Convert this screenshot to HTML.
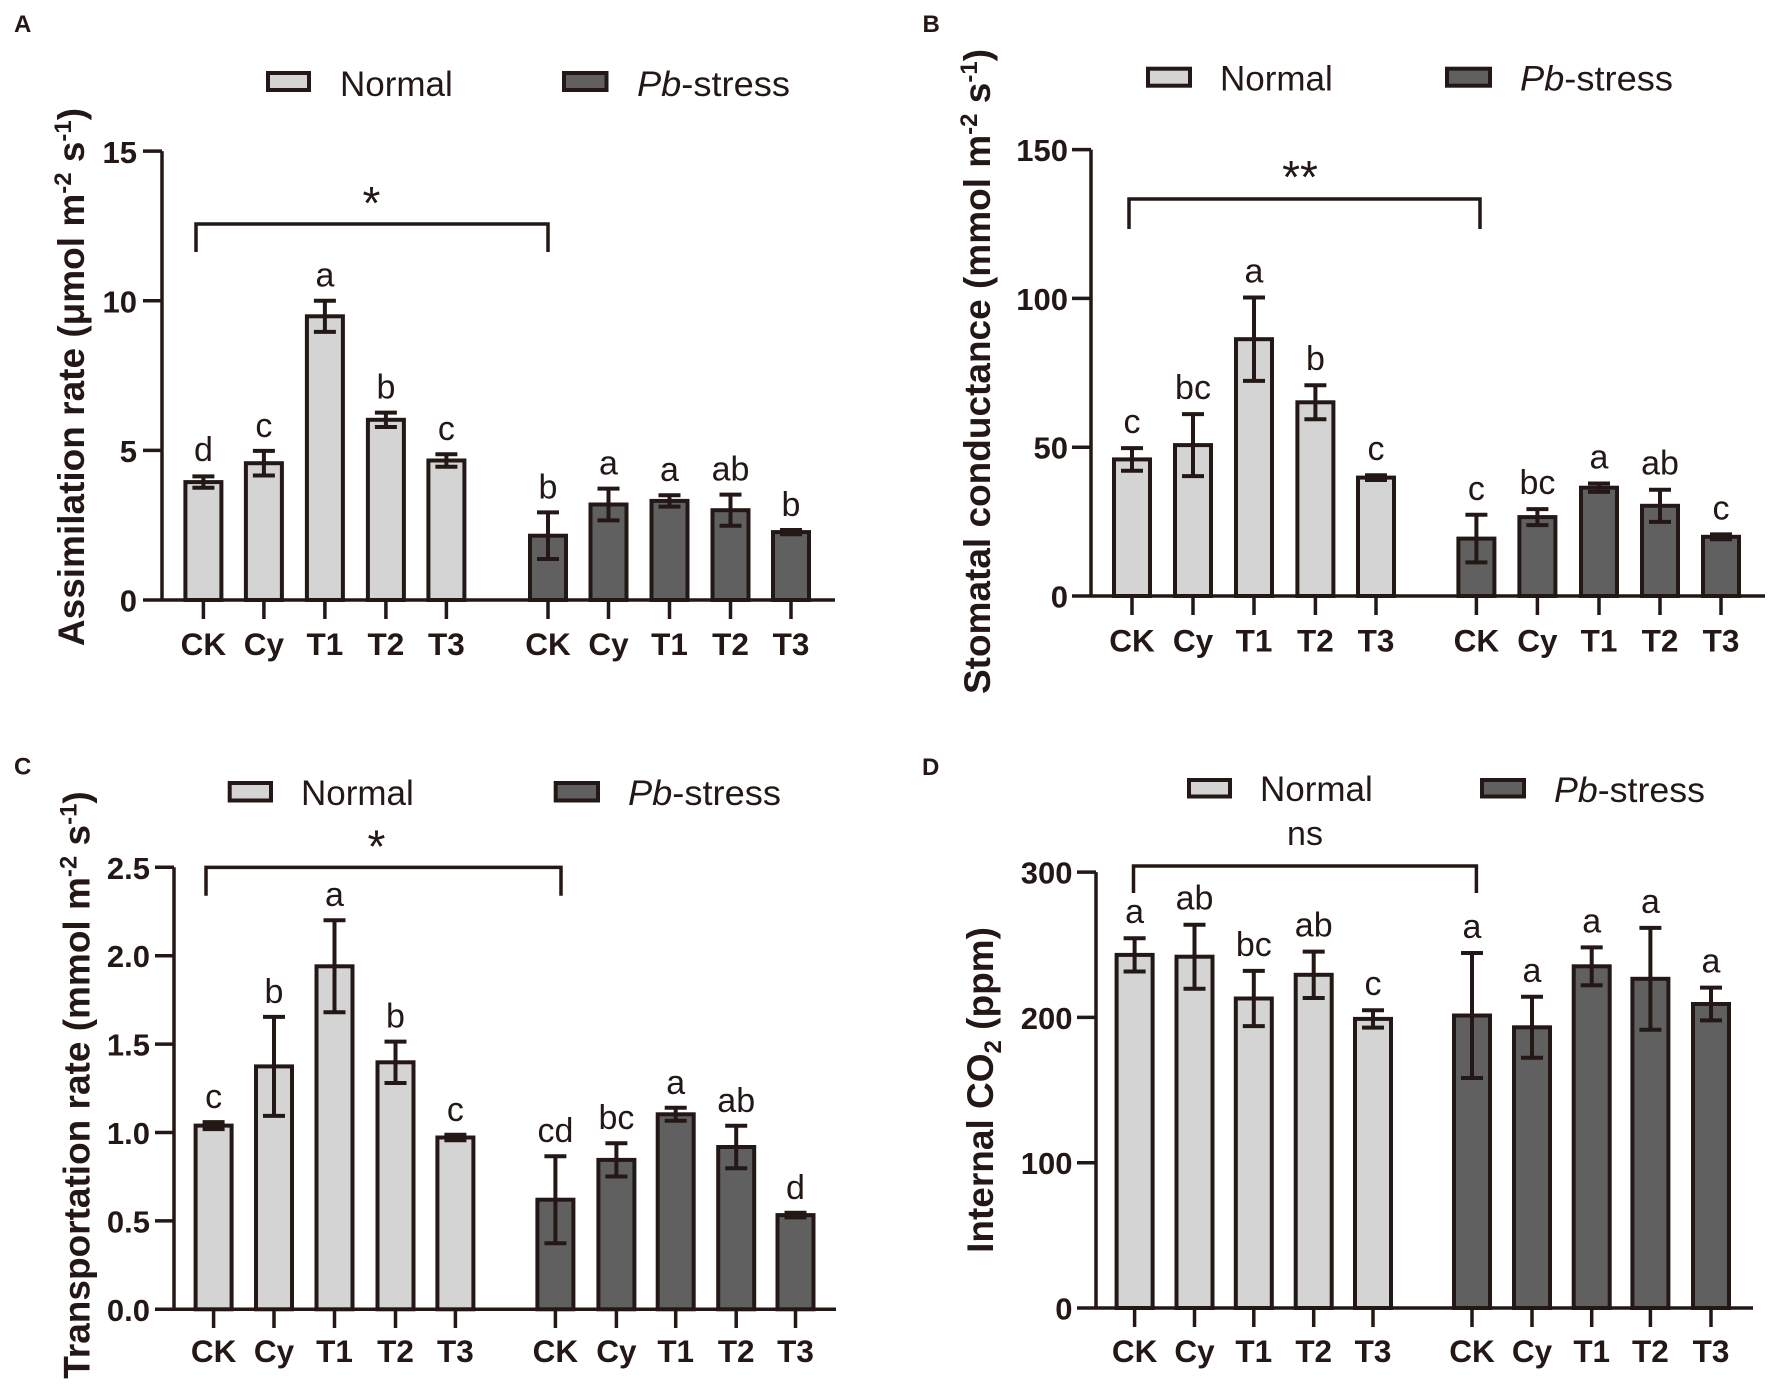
<!DOCTYPE html>
<html><head><meta charset="utf-8"><style>
html,body{margin:0;padding:0;background:#fff;}
svg{display:block;}
text{font-family:"Liberation Sans",Arial,sans-serif;fill:#231815;}
.t{font-size:31.5px;font-weight:bold;}
.yt{font-size:31px;font-weight:bold;text-anchor:end;}
.lt{font-size:34px;text-anchor:middle;}
.lg{font-size:35px;}
.ti{font-size:37px;font-weight:bold;text-anchor:middle;}
.pl{font-size:24px;font-weight:bold;}
.st{font-size:46px;text-anchor:middle;}
.n rect{fill:#d4d4d4;stroke:#231815;stroke-width:4;}
.p rect{fill:#606060;stroke:#231815;stroke-width:4;}
.ln{fill:none;stroke:#231815;stroke-width:3.5;}
.er{fill:none;stroke:#231815;stroke-width:4;}
.lb rect{stroke:#231815;stroke-width:4;}
</style></head><body>
<svg width="1772" height="1389" viewBox="0 0 1772 1389" xmlns="http://www.w3.org/2000/svg">
<rect width="1772" height="1389" fill="#fff"/>

<!-- ================= PANEL A ================= -->
<text class="pl" x="14" y="32">A</text>
<g class="lb"><rect x="268" y="73" width="41" height="17" fill="#d4d4d4"/><rect x="564" y="73" width="42.5" height="17" fill="#606060"/></g>
<text class="lg" x="340" y="96">Normal</text>
<text class="lg" x="637" y="96" textLength="153" lengthAdjust="spacingAndGlyphs"><tspan font-style="italic">Pb</tspan>-stress</text>
<text class="ti" transform="translate(84,377) rotate(-90)">Assimilation rate (μmol m<tspan font-size="24" dy="-13">-2</tspan><tspan dy="13"> s</tspan><tspan font-size="24" dy="-13">-1</tspan><tspan dy="13">)</tspan></text>
<g class="n">
<rect x="185.4" y="482.1" width="36" height="117.9"/>
<rect x="245.9" y="463.2" width="36" height="136.8"/>
<rect x="306.9" y="316.3" width="36" height="283.7"/>
<rect x="367.9" y="419.8" width="36" height="180.2"/>
<rect x="428.4" y="460.5" width="36" height="139.5"/>
</g>
<g class="p">
<rect x="530" y="535.7" width="36" height="64.3"/>
<rect x="590.5" y="504.5" width="36" height="95.5"/>
<rect x="651.5" y="500.9" width="36" height="99.1"/>
<rect x="712.5" y="510.2" width="36" height="89.8"/>
<rect x="773" y="532.1" width="36" height="67.9"/>
</g>
<path class="er" d="M203.4 476.4V487.8M192.4 476.4H214.4M192.4 487.8H214.4
M263.9 450.9V475.5M252.9 450.9H274.9M252.9 475.5H274.9
M324.9 300.7V331.9M313.9 300.7H335.9M313.9 331.9H335.9
M385.9 412.6V427M374.9 412.6H396.9M374.9 427H396.9
M446.4 454.2V466.8M435.4 454.2H457.4M435.4 466.8H457.4
M548 512.4V559M537 512.4H559M537 559H559
M608.5 488.6V520.4M597.5 488.6H619.5M597.5 520.4H619.5
M669.5 495.2V506.6M658.5 495.2H680.5M658.5 506.6H680.5
M730.5 494.6V525.8M719.5 494.6H741.5M719.5 525.8H741.5
M791 530V534.2M780 530H802M780 534.2H802"/>
<path class="ln" d="M162 151.1V600M143 600H835M143 151.1H162M143 300.7H162M143 450.4H162
M203.4 600V619M263.9 600V619M324.9 600V619M385.9 600V619M446.4 600V619M548 600V619M608.5 600V619M669.5 600V619M730.5 600V619M791 600V619"/>
<path class="ln" stroke-width="3" d="M196 252V224H548V252"/>
<text class="st" x="371.5" y="219">*</text>
<text class="yt" x="137" y="163">15</text>
<text class="yt" x="137" y="312.5">10</text>
<text class="yt" x="137" y="462">5</text>
<text class="yt" x="137" y="611.5">0</text>
<text x="203.4" y="655" class="t" text-anchor="middle">CK</text>
<text x="263.9" y="655" class="t" text-anchor="middle">Cy</text>
<text x="324.9" y="655" class="t" text-anchor="middle">T1</text>
<text x="385.9" y="655" class="t" text-anchor="middle">T2</text>
<text x="446.4" y="655" class="t" text-anchor="middle">T3</text>
<text x="548" y="655" class="t" text-anchor="middle">CK</text>
<text x="608.5" y="655" class="t" text-anchor="middle">Cy</text>
<text x="669.5" y="655" class="t" text-anchor="middle">T1</text>
<text x="730.5" y="655" class="t" text-anchor="middle">T2</text>
<text x="791" y="655" class="t" text-anchor="middle">T3</text>
<text class="lt" x="203.4" y="461">d</text>
<text class="lt" x="263.9" y="436.9">c</text>
<text class="lt" x="324.9" y="286.7">a</text>
<text class="lt" x="385.9" y="398.6">b</text>
<text class="lt" x="446.4" y="440.2">c</text>
<text class="lt" x="548" y="498.4">b</text>
<text class="lt" x="608.5" y="474.6">a</text>
<text class="lt" x="669.5" y="481.2">a</text>
<text class="lt" x="730.5" y="480.6">ab</text>
<text class="lt" x="791" y="516">b</text>

<!-- ================= PANEL B ================= -->
<text class="pl" x="922.5" y="32">B</text>
<g class="lb"><rect x="1148" y="68.7" width="42" height="17" fill="#d4d4d4"/><rect x="1447" y="68.7" width="43" height="17" fill="#606060"/></g>
<text class="lg" x="1220" y="90.4">Normal</text>
<text class="lg" x="1520" y="90.4" textLength="153" lengthAdjust="spacingAndGlyphs"><tspan font-style="italic">Pb</tspan>-stress</text>
<text class="ti" transform="translate(990,371.5) rotate(-90)">Stomatal conductance (mmol m<tspan font-size="24" dy="-13">-2</tspan><tspan dy="13"> s</tspan><tspan font-size="24" dy="-13">-1</tspan><tspan dy="13">)</tspan></text>
<g class="n">
<rect x="1114" y="459.4" width="36" height="136.6"/>
<rect x="1175" y="445.1" width="36" height="150.9"/>
<rect x="1236" y="339.2" width="36" height="256.8"/>
<rect x="1297.4" y="402.3" width="36" height="193.7"/>
<rect x="1358" y="477.6" width="36" height="118.4"/>
</g>
<g class="p">
<rect x="1458.4" y="538.6" width="36" height="57.4"/>
<rect x="1519.4" y="517.1" width="36" height="78.9"/>
<rect x="1581" y="487.7" width="36" height="108.3"/>
<rect x="1642" y="505.8" width="36" height="90.2"/>
<rect x="1703" y="536.8" width="36" height="59.2"/>
</g>
<path class="er" d="M1132 448.1V470.7M1121 448.1H1143M1121 470.7H1143
M1193 414.1V476.1M1182 414.1H1204M1182 476.1H1204
M1254 297.5V380.9M1243 297.5H1265M1243 380.9H1265
M1315.4 385.3V419.3M1304.4 385.3H1326.4M1304.4 419.3H1326.4
M1376 475.2V480M1365 475.2H1387M1365 480H1387
M1476.4 514.8V562.4M1465.4 514.8H1487.4M1465.4 562.4H1487.4
M1537.4 509.1V525.1M1526.4 509.1H1548.4M1526.4 525.1H1548.4
M1599 483.5V491.9M1588 483.5H1610M1588 491.9H1610
M1660 489.7V521.9M1649 489.7H1671M1649 521.9H1671
M1721 534.4V539.2M1710 534.4H1732M1710 539.2H1732"/>
<path class="ln" d="M1091 149.6V596M1072 596H1765M1072 149.6H1091M1072 298.4H1091M1072 447.2H1091
M1132 596V615M1193 596V615M1254 596V615M1315.4 596V615M1376 596V615M1476.4 596V615M1537.4 596V615M1599 596V615M1660 596V615M1721 596V615"/>
<path class="ln" stroke-width="3" d="M1129 229V199H1480V229"/>
<text class="st" x="1300" y="193">**</text>
<text class="yt" x="1068" y="161">150</text>
<text class="yt" x="1068" y="310">100</text>
<text class="yt" x="1068" y="458.7">50</text>
<text class="yt" x="1068" y="607.5">0</text>
<text x="1132" y="651.5" class="t" text-anchor="middle">CK</text>
<text x="1193" y="651.5" class="t" text-anchor="middle">Cy</text>
<text x="1254" y="651.5" class="t" text-anchor="middle">T1</text>
<text x="1315.4" y="651.5" class="t" text-anchor="middle">T2</text>
<text x="1376" y="651.5" class="t" text-anchor="middle">T3</text>
<text x="1476.4" y="651.5" class="t" text-anchor="middle">CK</text>
<text x="1537.4" y="651.5" class="t" text-anchor="middle">Cy</text>
<text x="1599" y="651.5" class="t" text-anchor="middle">T1</text>
<text x="1660" y="651.5" class="t" text-anchor="middle">T2</text>
<text x="1721" y="651.5" class="t" text-anchor="middle">T3</text>
<text class="lt" x="1132" y="433">c</text>
<text class="lt" x="1193" y="399">bc</text>
<text class="lt" x="1254" y="282.5">a</text>
<text class="lt" x="1315.4" y="370">b</text>
<text class="lt" x="1376" y="460">c</text>
<text class="lt" x="1476.4" y="500">c</text>
<text class="lt" x="1537.4" y="494">bc</text>
<text class="lt" x="1599" y="468.5">a</text>
<text class="lt" x="1660" y="474.7">ab</text>
<text class="lt" x="1721" y="519.4">c</text>

<!-- ================= PANEL C ================= -->
<text class="pl" x="14" y="774.5">C</text>
<g class="lb"><rect x="229.7" y="783" width="41.3" height="17.5" fill="#d4d4d4"/><rect x="555.7" y="783" width="42.3" height="17.5" fill="#606060"/></g>
<text class="lg" x="301" y="805">Normal</text>
<text class="lg" x="628" y="805" textLength="153" lengthAdjust="spacingAndGlyphs"><tspan font-style="italic">Pb</tspan>-stress</text>
<text class="ti" transform="translate(89.5,1085) rotate(-90)">Transportation rate (mmol m<tspan font-size="24" dy="-13">-2</tspan><tspan dy="13"> s</tspan><tspan font-size="24" dy="-13">-1</tspan><tspan dy="13">)</tspan></text>
<g class="n">
<rect x="195.6" y="1125.6" width="36" height="183.7"/>
<rect x="256" y="1066.4" width="36" height="242.9"/>
<rect x="316.5" y="966.3" width="36" height="343"/>
<rect x="377.5" y="1062.3" width="36" height="247"/>
<rect x="437.4" y="1137.5" width="36" height="171.8"/>
</g>
<g class="p">
<rect x="537.4" y="1199.7" width="36" height="109.6"/>
<rect x="598.4" y="1159.9" width="36" height="149.4"/>
<rect x="657.7" y="1114.3" width="36" height="195"/>
<rect x="718.2" y="1147" width="36" height="162.3"/>
<rect x="777.5" y="1215.1" width="36" height="94.2"/>
</g>
<path class="er" d="M213.6 1122.1V1129.1M202.6 1122.1H224.6M202.6 1129.1H224.6
M274 1016.9V1115.9M263 1016.9H285M263 1115.9H285
M334.5 920.3V1012.3M323.5 920.3H345.5M323.5 1012.3H345.5
M395.5 1041.6V1083M384.5 1041.6H406.5M384.5 1083H406.5
M455.4 1134.8V1140.2M444.4 1134.8H466.4M444.4 1140.2H466.4
M555.4 1156.2V1243.2M544.4 1156.2H566.4M544.4 1243.2H566.4
M616.4 1143.3V1176.5M605.4 1143.3H627.4M605.4 1176.5H627.4
M675.7 1107.8V1120.8M664.7 1107.8H686.7M664.7 1120.8H686.7
M736.2 1125.8V1168.2M725.2 1125.8H747.2M725.2 1168.2H747.2
M795.5 1212.8V1217.4M784.5 1212.8H806.5M784.5 1217.4H806.5"/>
<path class="ln" d="M174 867.3V1309.3M155 1309.3H836M155 867.3H174M155 955.7H174M155 1044.1H174M155 1132.5H174M155 1220.9H174
M213.6 1309.3V1328M274 1309.3V1328M334.5 1309.3V1328M395.5 1309.3V1328M455.4 1309.3V1328M555.4 1309.3V1328M616.4 1309.3V1328M675.7 1309.3V1328M736.2 1309.3V1328M795.5 1309.3V1328"/>
<path class="ln" stroke-width="3" d="M206 895.7V867.4H561V895.7"/>
<text class="st" x="376.5" y="862.5">*</text>
<text class="yt" x="150" y="878.8">2.5</text>
<text class="yt" x="150" y="967.2">2.0</text>
<text class="yt" x="150" y="1055.6">1.5</text>
<text class="yt" x="150" y="1144">1.0</text>
<text class="yt" x="150" y="1232.4">0.5</text>
<text class="yt" x="150" y="1320.8">0.0</text>
<text x="213.6" y="1362" class="t" text-anchor="middle">CK</text>
<text x="274" y="1362" class="t" text-anchor="middle">Cy</text>
<text x="334.5" y="1362" class="t" text-anchor="middle">T1</text>
<text x="395.5" y="1362" class="t" text-anchor="middle">T2</text>
<text x="455.4" y="1362" class="t" text-anchor="middle">T3</text>
<text x="555.4" y="1362" class="t" text-anchor="middle">CK</text>
<text x="616.4" y="1362" class="t" text-anchor="middle">Cy</text>
<text x="675.7" y="1362" class="t" text-anchor="middle">T1</text>
<text x="736.2" y="1362" class="t" text-anchor="middle">T2</text>
<text x="795.5" y="1362" class="t" text-anchor="middle">T3</text>
<text class="lt" x="213.6" y="1108">c</text>
<text class="lt" x="274" y="1003">b</text>
<text class="lt" x="334.5" y="906">a</text>
<text class="lt" x="395.5" y="1027.6">b</text>
<text class="lt" x="455.4" y="1120.8">c</text>
<text class="lt" x="555.4" y="1142">cd</text>
<text class="lt" x="616.4" y="1129">bc</text>
<text class="lt" x="675.7" y="1093.8">a</text>
<text class="lt" x="736.2" y="1111.8">ab</text>
<text class="lt" x="795.5" y="1198.8">d</text>

<!-- ================= PANEL D ================= -->
<text class="pl" x="922" y="775">D</text>
<g class="lb"><rect x="1189" y="780" width="41" height="16.5" fill="#d4d4d4"/><rect x="1482" y="780" width="42" height="16.5" fill="#606060"/></g>
<text class="lg" x="1260" y="801">Normal</text>
<text class="lg" x="1554" y="802" textLength="151" lengthAdjust="spacingAndGlyphs"><tspan font-style="italic">Pb</tspan>-stress</text>
<text class="ti" transform="translate(993,1090) rotate(-90)">Internal CO<tspan font-size="24" dy="8">2</tspan><tspan dy="-8"> (ppm)</tspan></text>
<g class="n">
<rect x="1116.6" y="954.9" width="36" height="353.1"/>
<rect x="1176.5" y="956.7" width="36" height="351.3"/>
<rect x="1235.8" y="998.5" width="36" height="309.5"/>
<rect x="1295.7" y="974.8" width="36" height="333.2"/>
<rect x="1355" y="1018.9" width="36" height="289.1"/>
</g>
<g class="p">
<rect x="1454" y="1015.5" width="36" height="292.5"/>
<rect x="1514" y="1027.3" width="36" height="280.7"/>
<rect x="1573.7" y="966.3" width="36" height="341.7"/>
<rect x="1632.4" y="978.8" width="36" height="329.2"/>
<rect x="1693" y="1004" width="36" height="304"/>
</g>
<path class="er" d="M1134.6 938.3V971.5M1123.6 938.3H1145.6M1123.6 971.5H1145.6
M1194.5 924.7V988.7M1183.5 924.7H1205.5M1183.5 988.7H1205.5
M1253.8 970.9V1026.1M1242.8 970.9H1264.8M1242.8 1026.1H1264.8
M1313.7 951.6V998M1302.7 951.6H1324.7M1302.7 998H1324.7
M1373 1010.2V1027.6M1362 1010.2H1384M1362 1027.6H1384
M1472 953V1078M1461 953H1483M1461 1078H1483
M1532 996.8V1057.8M1521 996.8H1543M1521 1057.8H1543
M1591.7 947.4V985.2M1580.7 947.4H1602.7M1580.7 985.2H1602.7
M1650.4 927.9V1029.7M1639.4 927.9H1661.4M1639.4 1029.7H1661.4
M1711 987.6V1020.4M1700 987.6H1722M1700 1020.4H1722"/>
<path class="ln" d="M1096 872.1V1308M1077 1308H1753M1077 872.1H1096M1077 1017.4H1096M1077 1162.7H1096
M1134.6 1308V1327M1194.5 1308V1327M1253.8 1308V1327M1313.7 1308V1327M1373 1308V1327M1472 1308V1327M1532 1308V1327M1591.7 1308V1327M1650.4 1308V1327M1711 1308V1327"/>
<path class="ln" stroke-width="3" d="M1133.5 893V866H1476.4V893"/>
<text class="lt" x="1305" y="845">ns</text>
<text class="yt" x="1072.5" y="883.5">300</text>
<text class="yt" x="1072.5" y="1028.9">200</text>
<text class="yt" x="1072.5" y="1174.2">100</text>
<text class="yt" x="1072.5" y="1319.5">0</text>
<text x="1134.6" y="1362" class="t" text-anchor="middle">CK</text>
<text x="1194.5" y="1362" class="t" text-anchor="middle">Cy</text>
<text x="1253.8" y="1362" class="t" text-anchor="middle">T1</text>
<text x="1313.7" y="1362" class="t" text-anchor="middle">T2</text>
<text x="1373" y="1362" class="t" text-anchor="middle">T3</text>
<text x="1472" y="1362" class="t" text-anchor="middle">CK</text>
<text x="1532" y="1362" class="t" text-anchor="middle">Cy</text>
<text x="1591.7" y="1362" class="t" text-anchor="middle">T1</text>
<text x="1650.4" y="1362" class="t" text-anchor="middle">T2</text>
<text x="1711" y="1362" class="t" text-anchor="middle">T3</text>
<text class="lt" x="1134.6" y="923">a</text>
<text class="lt" x="1194.5" y="909.7">ab</text>
<text class="lt" x="1253.8" y="956">bc</text>
<text class="lt" x="1313.7" y="936.6">ab</text>
<text class="lt" x="1373" y="995">c</text>
<text class="lt" x="1472" y="938">a</text>
<text class="lt" x="1532" y="981.8">a</text>
<text class="lt" x="1591.7" y="932.4">a</text>
<text class="lt" x="1650.4" y="913">a</text>
<text class="lt" x="1711" y="972.6">a</text>
</svg>
</body></html>
